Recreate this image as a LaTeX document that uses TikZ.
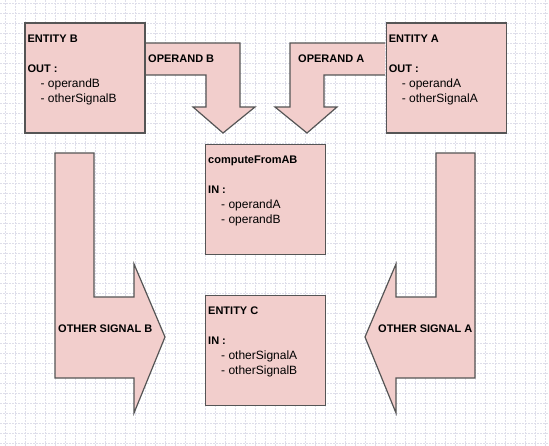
\documentclass[tikz,border=0pt]{standalone}
\usepackage{fontspec}
\setmainfont{Liberation Sans}
\usetikzlibrary{
  positioning,
  calc
}
\definecolor{blockpink}{RGB}{242,206,204}
\definecolor{edgegray}{RGB}{85,85,85}
\definecolor{gridline}{RGB}{222,222,234}
\newcommand{\entryhead}[1]{{\bfseries\fontsize{11}{15}\selectfont #1}}
\newcommand{\entryitem}[1]{\hspace*{13pt}- #1}

\begin{document}
\begin{tikzpicture}[x=1pt, y=-1pt,
  entity/.style={draw=edgegray, fill=blockpink, line width=1.2pt, minimum width=120pt, minimum height=110pt, inner sep=0pt},
  blockarrow/.style={draw=edgegray, fill=blockpink, line width=1.2pt, line join=miter},
  listing/.style={anchor=north west, inner sep=0pt, align=left, font=\fontsize{12}{15}\selectfont},
  tag/.style={anchor=west, inner sep=0pt, font=\bfseries\fontsize{11}{13}\selectfont}]
  \useasboundingbox (0,0) rectangle (549,446);
  % grid
  \foreach \gx in {5,15,...,545} \draw[gridline, dash pattern=on 2pt off 1pt] (\gx,0) -- (\gx,446);
  \foreach \gy in {3,13,...,443} \draw[gridline, dash pattern=on 2pt off 1pt] (0,\gy) -- (549,\gy);
  % block arrows
  \draw[blockarrow] (145,43) -- (240,43) -- (240,107) -- (255,107) -- (223,133) -- (193,107) -- (206,107) -- (206,75) -- (145,75);
  \draw[blockarrow] (385,43) -- (290,43) -- (290,107) -- (275,107) -- (307,133) -- (337,107) -- (324,107) -- (324,75) -- (385,75);
  \draw[blockarrow] (55,153) -- (94,153) -- (94,297) -- (134,297) -- (134,264) -- (165,337) -- (134,413) -- (134,378) -- (55,378) -- cycle;
  \draw[blockarrow] (475,153) -- (436,153) -- (436,297) -- (396,297) -- (396,264) -- (365,337) -- (396,413) -- (396,378) -- (475,378) -- cycle;
  \node[tag] (opbtag) at (148,59) {OPERAND B};
  \node[tag] (opatag) at (298,59) {OPERAND A};
  \node[tag] (osbtag) at (58,329) {OTHER SIGNAL B};
  \node[tag] (osatag) at (378,329) {OTHER SIGNAL A};
  % entities
  \node[entity] (entb) at (85,78) {};
  \node[entity, right=240pt of entb] (enta) {};
  \node[entity, anchor=north] (comp) at ($(entb.south east)!0.5!(enta.south west)+(0,10)$) {};
  \node[entity, below=40pt of comp] (entc) {};
  \node[listing] (entbtxt) at ([shift={(3,12)}]entb.north west) {\entryhead{ENTITY B}\\[15pt] \entryhead{OUT :}\\ \entryitem{operandB}\\ \entryitem{otherSignalB}};
  \node[listing] (entatxt) at ([shift={(3,12)}]enta.north west) {\entryhead{ENTITY A}\\[15pt] \entryhead{OUT :}\\ \entryitem{operandA}\\ \entryitem{otherSignalA}};
  \node[listing] (comptxt) at ([shift={(3,12)}]comp.north west) {\entryhead{computeFromAB}\\[15pt] \entryhead{IN :}\\ \entryitem{operandA}\\ \entryitem{operandB}};
  \node[listing] (entctxt) at ([shift={(3,12)}]entc.north west) {\entryhead{ENTITY C}\\[15pt] \entryhead{IN :}\\ \entryitem{otherSignalA}\\ \entryitem{otherSignalB}};
\end{tikzpicture}
\end{document}
